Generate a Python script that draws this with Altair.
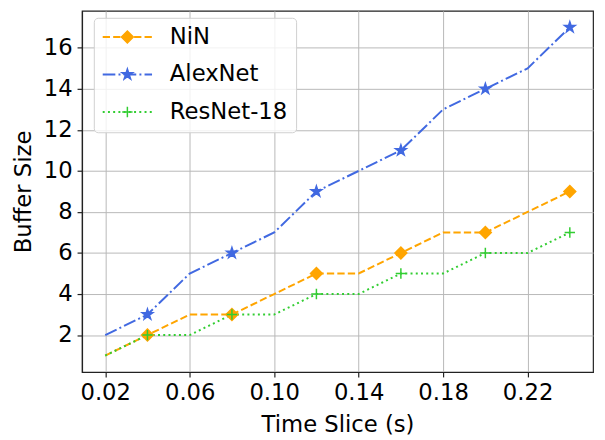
import altair as alt
import pandas as pd

# ---- data ----
time_slice = [0.02, 0.04, 0.06, 0.08, 0.10, 0.12, 0.14, 0.16, 0.18, 0.20, 0.22, 0.24]
nin = [1, 2, 3, 3, 4, 5, 5, 6, 7, 7, 8, 9]
alexnet = [2, 3, 5, 6, 7, 9, 10, 11, 13, 14, 15, 17]
resnet18 = [1, 2, 2, 3, 3, 4, 4, 5, 5, 6, 6, 7]
models = ["NiN", "AlexNet", "ResNet-18"]
x_ticks = [0.02, 0.06, 0.10, 0.14, 0.18, 0.22]
y_ticks = [2, 4, 6, 8, 10, 12, 14, 16]

# ---- styles ----
colors = ["#FFA500", "#4169E1", "#32CD32"]
dashes = [[7.4, 3.2], [12.8, 3.2, 2, 3.2], [2, 3.3]]
STAR = ("M0,-1L0.2245,-0.309L0.951,-0.309L0.363,0.118L0.588,0.809L0,0.382"
        "L-0.588,0.809L-0.363,0.118L-0.951,-0.309L-0.2245,-0.309Z")
PLUS = "M-1,0L1,0M0,-1L0,1"
shapes = ["diamond", STAR, PLUS]
marker_sizes = [144, 110, 80]
FONT = "DejaVu Sans"
FS = 23

# marker layer uses a separate key so its legend (symbols only) is not merged
models_m = [m + " " for m in models]

rows = []
for name, mname, vals in zip(models, models_m, [nin, alexnet, resnet18]):
    for i, (t, v) in enumerate(zip(time_slice, vals)):
        rows.append({"t": t, "buf": v, "model": name, "model2": mname, "idx": i})
df = pd.DataFrame(rows)

x_enc = alt.X("t:Q",
              scale=alt.Scale(domain=[0.009, 0.251], nice=False, zero=False),
              axis=alt.Axis(values=x_ticks, format=".2f", title="Time Slice (s)"))
y_enc = alt.Y("buf:Q",
              scale=alt.Scale(domain=[0.2, 17.8], nice=False, zero=False),
              axis=alt.Axis(values=y_ticks, format="d", title="Buffer Size"))

common_leg = dict(title=None, orient="none", legendY=7, padding=8, rowPadding=14,
                  clipHeight=FS, labelFontSize=FS, labelFont=FONT, labelColor="black")

legA = alt.Legend(legendX=12, symbolType="stroke", symbolSize=2500, symbolStrokeWidth=2,
                  labelOffset=17, labelExpr="datum.label + '\u00a0'",
                  strokeColor="#d0d0d0", fillColor="rgba(255,255,255,0.8)", cornerRadius=4,
                  **common_leg)
legB = alt.Legend(legendX=26.5, symbolStrokeWidth=1.5, labelOffset=17, labelExpr="''",
                  **common_leg)

lines = alt.Chart(df).mark_line(strokeWidth=2).encode(
    x=x_enc, y=y_enc,
    color=alt.Color("model:N", scale=alt.Scale(domain=models, range=colors), legend=legA),
    strokeDash=alt.StrokeDash("model:N", scale=alt.Scale(domain=models, range=dashes), legend=legA),
    detail="model:N",
)

points = alt.Chart(df).transform_filter("datum.idx % 2 == 1").mark_point(
    filled=True, opacity=1, strokeWidth=1.5
).encode(
    x=x_enc, y=y_enc,
    fill=alt.Fill("model2:N", scale=alt.Scale(domain=models_m, range=colors), legend=legB),
    stroke=alt.Stroke("model2:N", scale=alt.Scale(domain=models_m, range=colors), legend=legB),
    shape=alt.Shape("model2:N", scale=alt.Scale(domain=models_m, range=shapes), legend=legB),
    size=alt.Size("model2:N", scale=alt.Scale(domain=models_m, range=marker_sizes), legend=legB),
)

chart = alt.layer(lines, points).properties(
    width=518, height=366,
    autosize=alt.AutoSizeParams(type="none"),
    padding={"left": 75, "top": 0, "right": 4, "bottom": 66},
).configure_view(
    stroke="#222222", strokeWidth=1.2
).configure_axis(
    labelFont=FONT, titleFont=FONT, labelFontSize=FS, titleFontSize=FS,
    titleFontWeight="normal", labelColor="black", titleColor="black",
    gridColor="#b8b8b8", gridWidth=1, domainColor="#222222", domainWidth=1.2,
    tickColor="#222222", tickSize=5, tickWidth=1.2, labelPadding=5,
).configure_axisX(
    titlePadding=9, labelFlush=False
).configure_axisY(
    titlePadding=8
)

chart.save("out.html", embed_options={"renderer": "svg", "actions": False})
